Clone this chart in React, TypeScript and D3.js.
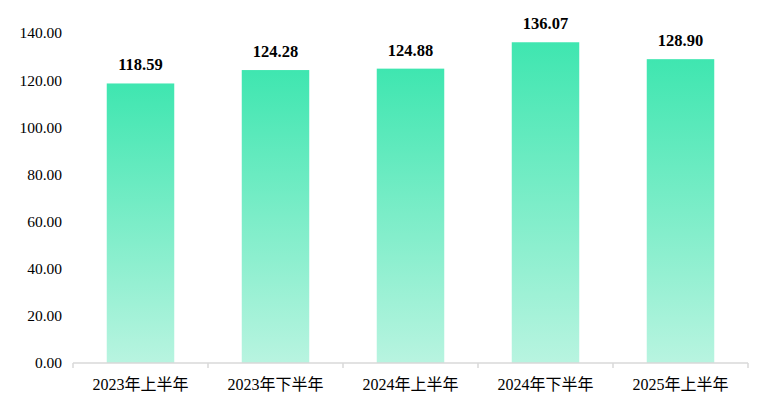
import { scaleBand, scaleLinear } from "d3";

const categories = ["2023年上半年", "2023年下半年", "2024年上半年", "2024年下半年", "2025年上半年"];
const values = [118.59, 124.28, 124.88, 136.07, 128.9];
const yTicks = [0, 20, 40, 60, 80, 100, 120, 140];

const W = 762;
const H = 409;
const margin = { top: 33, right: 14, bottom: 46, left: 73 };

export default function App() {
  const x = scaleBand<string>()
    .domain(categories)
    .range([margin.left, W - margin.right])
    .paddingInner(0.5)
    .paddingOuter(0.25);
  const y = scaleLinear().domain([0, 140]).range([H - margin.bottom, margin.top]);
  const step = x.step();
  const font = "'Liberation Serif', 'Times New Roman', 'Noto Sans CJK SC', serif";

  return (
    <svg width={W} height={H} style={{ position: "absolute", left: 0, top: 0, background: "#fff" }}>
      <defs>
        <linearGradient id="barGrad" x1="0" y1="0" x2="0" y2="1">
          <stop offset="0%" stopColor="#3fe6b0" />
          <stop offset="100%" stopColor="#b8f4e0" />
        </linearGradient>
      </defs>

      {/* Y tick labels */}
      {yTicks.map((t) => (
        <text
          key={t}
          x={62}
          y={y(t)}
          dy="0.35em"
          textAnchor="end"
          fontFamily={font}
          fontSize={15.5}
          fill="#000"
        >
          {t.toFixed(2)}
        </text>
      ))}

      {/* Bars */}
      {categories.map((c, i) => (
        <g key={c}>
          <rect
            x={x(c)}
            y={y(values[i])}
            width={x.bandwidth()}
            height={y(0) - y(values[i])}
            fill="url(#barGrad)"
          />
          <text
            x={(x(c) ?? 0) + x.bandwidth() / 2}
            y={y(values[i]) - 13}
            textAnchor="middle"
            fontFamily={font}
            fontWeight="bold"
            fontSize={16.5}
            fill="#000"
          >
            {values[i].toFixed(2)}
          </text>
          <text
            x={(x(c) ?? 0) + x.bandwidth() / 2}
            y={y(0) + 27}
            textAnchor="middle"
            fontFamily={font}
            fontSize={16}
            fill="#000"
          >
            {c}
          </text>
        </g>
      ))}

      {/* X axis */}
      <line x1={margin.left} x2={W - margin.right} y1={y(0)} y2={y(0)} stroke="#d9d9d9" strokeWidth={1.5} />
      {categories.concat([""]).map((_, i) => (
        <line
          key={i}
          x1={margin.left + i * step}
          x2={margin.left + i * step}
          y1={y(0)}
          y2={y(0) + 5}
          stroke="#d9d9d9"
          strokeWidth={1.5}
        />
      ))}
    </svg>
  );
}
